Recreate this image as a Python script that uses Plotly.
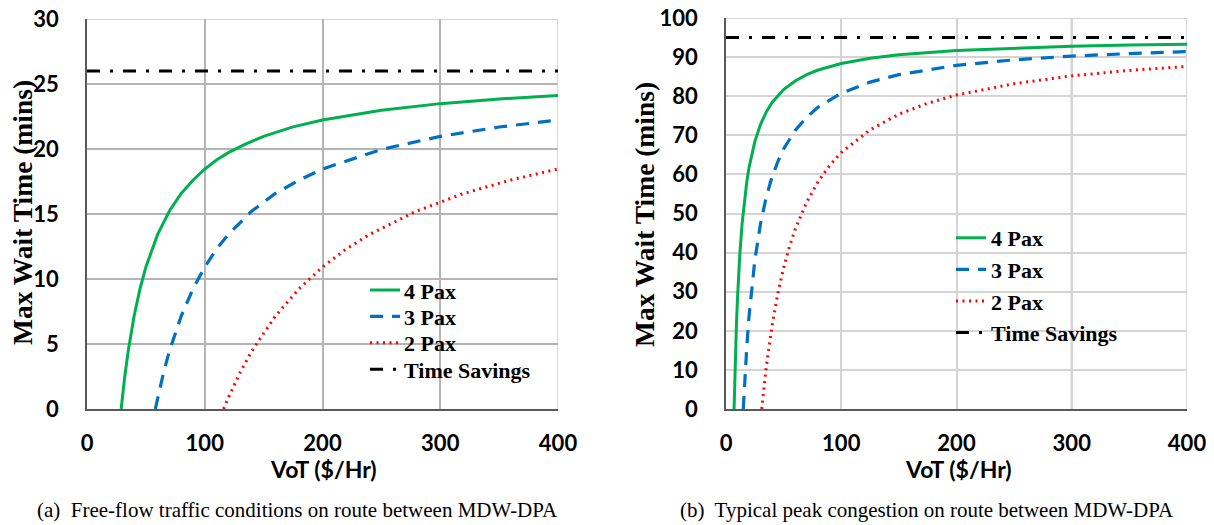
import plotly.graph_objects as go

# ---------- data ----------
# (a) Free-flow
a_vot_4 = [29, 30, 32, 35, 40, 45, 50, 60, 70, 80, 90, 100, 110, 120, 135, 150, 175, 200, 250, 300, 350, 400]
a_wait_4 = [0, 0.87, 2.44, 4.46, 7.15, 9.24, 10.92, 13.43, 15.23, 16.58, 17.6, 18.46, 19.15, 19.72, 20.4, 20.97, 21.7, 22.23, 22.98, 23.49, 23.85, 24.12]
a_vot_3 = [58, 60, 65, 70, 80, 90, 100, 110, 120, 140, 160, 180, 200, 250, 300, 350, 400]
a_wait_3 = [0, 0.87, 2.8, 4.46, 7.15, 9.24, 10.92, 12.3, 13.43, 15.23, 16.58, 17.6, 18.46, 19.97, 20.97, 21.69, 22.23]
a_vot_2 = [116, 120, 130, 140, 160, 180, 200, 220, 240, 280, 320, 360, 400]
a_wait_2 = [0, 0.87, 2.8, 4.46, 7.15, 9.24, 10.92, 12.3, 13.43, 15.23, 16.58, 17.62, 18.46]
a_vot_ts = [0, 400]
a_wait_ts = [26, 26]

# (b) Typical peak congestion
b_vot_4 = [7, 7.5, 8, 9, 10, 11, 12, 14, 16, 18, 20, 25, 30, 35, 40, 50, 60, 70, 80, 100, 125, 150, 200, 250, 300, 350, 400]
b_wait_4 = [0, 6.3, 11.9, 21.1, 28.5, 34.5, 39.6, 47.5, 53.4, 58.1, 61.75, 68.4, 72.8, 76.0, 78.4, 81.7, 83.9, 85.5, 86.7, 88.35, 89.7, 90.6, 91.7, 92.3, 92.8, 93.1, 93.3]
b_vot_3 = [15, 16, 17, 18, 20, 22, 25, 30, 35, 40, 45, 50, 60, 70, 80, 100, 125, 150, 200, 250, 300, 350, 400]
b_wait_3 = [0, 5.9, 11.2, 15.8, 23.75, 30.2, 38.0, 47.5, 54.3, 59.4, 63.3, 66.5, 71.25, 74.6, 77.2, 80.75, 83.6, 85.5, 87.9, 89.3, 90.25, 90.9, 91.4]
b_vot_2 = [31, 33, 35, 40, 45, 50, 55, 60, 70, 80, 90, 100, 125, 150, 175, 200, 250, 300, 350, 400]
b_wait_2 = [0, 5.8, 10.9, 21.4, 29.6, 36.1, 41.5, 45.9, 52.9, 58.2, 62.3, 65.6, 71.4, 75.4, 78.2, 80.3, 83.2, 85.2, 86.6, 87.6]
b_vot_ts = [0, 400]
b_wait_ts = [95, 95]

series_names = ["4 Pax", "3 Pax", "2 Pax", "Time Savings"]
captions = ["(a)  Free-flow traffic conditions on route between MDW-DPA",
            "(b)  Typical peak congestion on route between MDW-DPA"]
x_title = "VoT ($/Hr)"
y_title = "Max Wait Time (mins)"

# ---------- styles ----------
styles = [
    dict(color="#00b050", width=3, dash="solid"),
    dict(color="#0070c0", width=3.2, dash="13px,9px"),
    dict(color="#ff0000", width=3, dash="2px,4.5px"),
    dict(color="#000000", width=3, dash="13px,10px,3px,10px"),
]

# page body has an 8px margin; figure is sized to fill the rest of the window
OFF = 8
W, H = 1214 - OFF, 525 - OFF
def px_x(p): return (p - OFF) / W
def px_y(p): return 1 - (p - OFF) / H

fig = go.Figure()

panel_a = [(a_vot_4, a_wait_4), (a_vot_3, a_wait_3), (a_vot_2, a_wait_2), (a_vot_ts, a_wait_ts)]
panel_b = [(b_vot_4, b_wait_4), (b_vot_3, b_wait_3), (b_vot_2, b_wait_2), (b_vot_ts, b_wait_ts)]

for i, (xs, ys) in enumerate(panel_a):
    fig.add_trace(go.Scatter(x=xs, y=ys, mode="lines", name=series_names[i],
                             line=styles[i], xaxis="x", yaxis="y",
                             showlegend=False))
for i, (xs, ys) in enumerate(panel_b):
    fig.add_trace(go.Scatter(x=xs, y=ys, mode="lines", name=series_names[i],
                             line=styles[i], xaxis="x2", yaxis="y2",
                             legend="legend2", legendgroup="b%d" % i))

tick_font = dict(family="Lato", size=22, color="#000000", weight="bold")
legend_font = dict(family="Liberation Serif", size=22, color="#000000", weight="bold")

common_x = dict(range=[0, 400], dtick=100, tick0=0, showline=True, linecolor="#595959",
                linewidth=1.5, zeroline=False, tickfont=tick_font, ticks="",
                ticklabelstandoff=14, ticklabeloverflow="allow", fixedrange=True)
common_y = dict(showline=True, linecolor="#595959", linewidth=1.5, zeroline=False,
                tickfont=tick_font, ticks="", ticklabelstandoff=22,
                ticklabeloverflow="allow", fixedrange=True)

fig.update_layout(
    width=W, height=H,
    margin=dict(l=0, r=0, t=0, b=0, autoexpand=False),
    paper_bgcolor="white", plot_bgcolor="white",
    font=dict(family="Liberation Serif", color="#000000"),
    xaxis=dict(domain=[px_x(87), px_x(558)], anchor="y", gridcolor="#b4b4b4", gridwidth=1.5, **common_x),
    yaxis=dict(domain=[px_y(409), px_y(19)], anchor="x", range=[0, 30], dtick=5,
               gridcolor="#b4b4b4", gridwidth=1.5, **common_y),
    xaxis2=dict(domain=[px_x(726), px_x(1187)], anchor="y2", gridcolor="#d4d4d4", gridwidth=1.5, **common_x),
    yaxis2=dict(domain=[px_y(409), px_y(18)], anchor="x2", range=[0, 100], dtick=10,
                gridcolor="#d4d4d4", gridwidth=1.5, **common_y),
    legend2=dict(x=px_x(951), y=px_y(217), xanchor="left", yanchor="top",
                 bgcolor="rgba(0,0,0,0)", font=legend_font, tracegroupgap=0,
                 itemwidth=30),
    showlegend=True,
)

# legend for panel (a), drawn as key swatches + text (tighter row spacing)
leg_a_x0, leg_a_y0, leg_a_dy = 370, 290, 26.4
for i, name in enumerate(series_names):
    yy = leg_a_y0 + i * leg_a_dy
    fig.add_shape(type="line", xref="paper", yref="paper",
                  x0=px_x(leg_a_x0), x1=px_x(leg_a_x0 + 30), y0=px_y(yy), y1=px_y(yy),
                  line=styles[i])
    fig.add_annotation(x=px_x(leg_a_x0 + 32), y=px_y(yy + 1), xref="paper", yref="paper",
                       xanchor="left", yanchor="middle", text=name, showarrow=False,
                       font=legend_font)

# frame (top/right borders)
for xr, yr in (("x", "y"), ("x2", "y2")):
    top = 30 if yr == "y" else 100
    fig.add_shape(type="line", xref=xr, yref=yr, x0=0, x1=400, y0=top, y1=top,
                  line=dict(color="#c8c8c8", width=1.5), layer="below")
    fig.add_shape(type="line", xref=xr, yref=yr, x0=400, x1=400, y0=0, y1=top,
                  line=dict(color="#c8c8c8", width=1.5), layer="below")
# darker vertical gridline at 300 in panel b
fig.add_shape(type="line", xref="x2", yref="y2", x0=300, x1=300, y0=0, y1=100,
              line=dict(color="#b0b0b0", width=2), layer="below")

# axis titles
title_font_x = dict(family="Lato", size=23, color="#000000", weight="bold")
title_font_y = dict(family="Liberation Serif", size=27.5, color="#000000", weight="bold")
ann = dict(xref="paper", yref="paper", showarrow=False, xanchor="center", yanchor="middle")
fig.add_annotation(x=px_x(324), y=px_y(469), text=x_title, font=title_font_x, **ann)
fig.add_annotation(x=px_x(958), y=px_y(469), text=x_title, font=title_font_x, **ann)
fig.add_annotation(x=px_x(22), y=px_y(213), text=y_title, textangle=-90, font=title_font_y, **ann)
fig.add_annotation(x=px_x(645), y=px_y(215), text=y_title, textangle=-90, font=title_font_y, **ann)

# captions
cap_font = dict(family="Liberation Serif", size=21, color="#000000")
fig.add_annotation(x=px_x(297), y=px_y(510), text=captions[0], font=cap_font, **ann)
fig.add_annotation(x=px_x(927), y=px_y(510), text=captions[1], font=cap_font, **ann)

fig.write_html("out.html")
